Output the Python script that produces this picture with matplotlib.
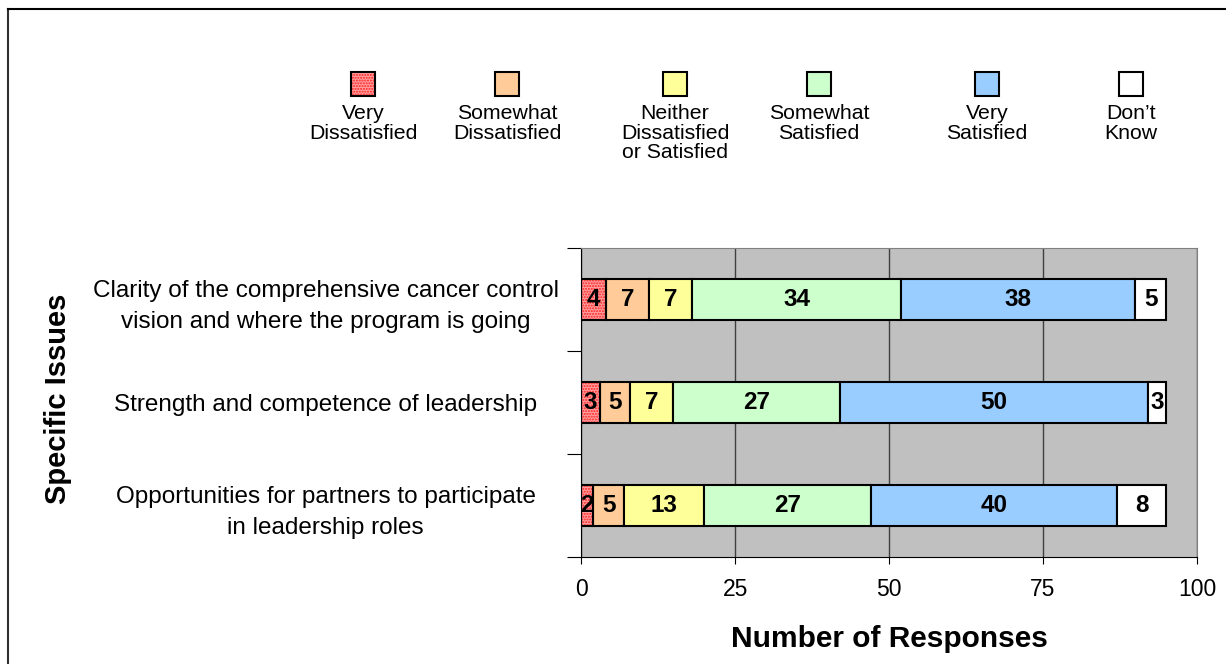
import numpy as np
import matplotlib.pyplot as plt
from matplotlib.patches import Rectangle
from matplotlib.lines import Line2D

plt.rcParams['font.family'] = ['Liberation Sans', 'DejaVu Sans']

# data
issues = [
    "Clarity of the comprehensive cancer control\nvision and where the program is going",
    "Strength and competence of leadership",
    "Opportunities for partners to participate\nin leadership roles",
]
categories = ["Very\nDissatisfied", "Somewhat\nDissatisfied", "Neither\nDissatisfied\nor Satisfied",
              "Somewhat\nSatisfied", "Very\nSatisfied", "Don\u2019t\nKnow"]
very_dis = [4, 3, 2]
some_dis = [7, 5, 5]
neither = [7, 7, 13]
some_sat = [34, 27, 27]
very_sat = [38, 50, 40]
dont_know = [5, 3, 8]

series = [very_dis, some_dis, neither, some_sat, very_sat, dont_know]
colors = ["#ff8c8c", "#ffcc99", "#ffff99", "#ccffcc", "#99ccff", "#ffffff"]

fig = plt.figure(figsize=(12.26, 6.64), dpi=100)
ax = fig.add_axes([0.474, 0.161, 0.5023, 0.4655])
ax.set_facecolor("#c0c0c0")

y = np.arange(len(issues))
left = np.zeros(len(issues))
for i, (vals, c) in enumerate(zip(series, colors)):
    vals = np.array(vals)
    if i == 0:
        ax.barh(y, vals, left=left, height=0.4, color="#ffa0a0", hatch="......",
                edgecolor="#ff2020", linewidth=0, zorder=2)
        ax.barh(y, vals, left=left, height=0.4, color="none",
                edgecolor="black", linewidth=1.5, zorder=3)
    else:
        ax.barh(y, vals, left=left, height=0.4, color=c,
                edgecolor="black", linewidth=1.5, zorder=2)
    for yi, (l, v) in enumerate(zip(left, vals)):
        ax.text(l + v / 2, yi, str(v), ha="center", va="center",
                fontsize=17.5, fontweight="bold", zorder=4)
    left = left + vals

ax.set_xlim(0, 100)
ax.set_ylim(2.5, -0.5)
ax.set_xticks([0, 25, 50, 75, 100])
ax.tick_params(axis="x", labelsize=16.5, length=5, direction="out", pad=10)
ax.set_yticks([-0.5, 0.5, 1.5, 2.5])
ax.set_yticklabels([])
ax.tick_params(axis="y", length=10, direction="out")
ax.set_yticks(y, minor=True)
ax.set_yticklabels(issues, minor=True, fontsize=17.5, ha="center", linespacing=1.5)
ax.tick_params(axis="y", which="minor", length=0, pad=184)
ax.xaxis.grid(True, color="#404040", linewidth=1)
ax.set_axisbelow(True)
for s in ["top", "right"]:
    ax.spines[s].set_color("#808080")
ax.set_xlabel("Number of Responses", fontsize=21.5, fontweight="bold", labelpad=17)
fig.text(0.047, 0.4, "Specific Issues", rotation=90, fontsize=21,
         fontweight="bold", ha="center", va="center")

# legend
leg_x = [363, 507, 675, 819, 987, 1131]
for x, c, lab, i in zip(leg_x, colors, categories, range(6)):
    fx = x / 1226
    w = 24 / 1226
    h = 24 / 664
    if i == 0:
        fig.add_artist(Rectangle((fx - w / 2, 1 - 96 / 664), w, h, transform=fig.transFigure,
                                 facecolor="#ffa0a0", hatch="......", edgecolor="#ff2020", linewidth=0))
        fig.add_artist(Rectangle((fx - w / 2, 1 - 96 / 664), w, h, transform=fig.transFigure,
                                 facecolor="none", edgecolor="black", linewidth=1.5))
    else:
        fig.add_artist(Rectangle((fx - w / 2, 1 - 96 / 664), w, h, transform=fig.transFigure,
                                 facecolor=c, edgecolor="black", linewidth=1.5))
    fig.text(fx, 1 - 104 / 664, lab, ha="center", va="top", fontsize=15.3, linespacing=1.05)

# outer frame
fig.add_artist(Line2D([8 / 1226, 8 / 1226], [0, 1 - 9 / 664], transform=fig.transFigure,
                      color="#303030", linewidth=1.5))
fig.add_artist(Line2D([8 / 1226, 1], [1 - 9 / 664, 1 - 9 / 664], transform=fig.transFigure,
                      color="black", linewidth=1.5))

fig.savefig("out.png", dpi=100)
